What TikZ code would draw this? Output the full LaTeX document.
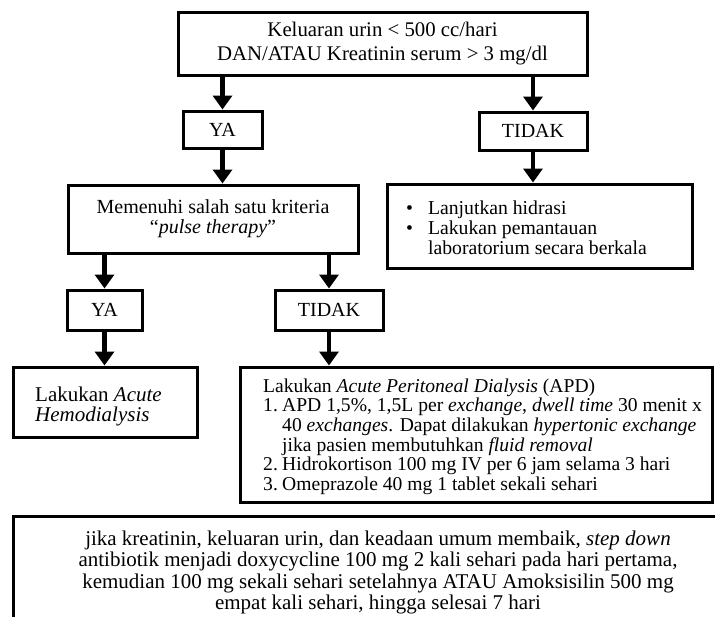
\documentclass[tikz,border=0pt]{standalone}
\usepackage{fontspec}
\setmainfont{Liberation Serif}
\usetikzlibrary{arrows.meta}
\begin{document}
\begin{tikzpicture}[x=1pt,y=-1pt,
  every node/.style={font=\fontsize{20}{23}\selectfont},
  box/.style={draw, line width=3pt, inner sep=0pt, align=center},
  frame/.style={draw, line width=3pt, inner sep=0pt},
  txt/.style={inner sep=0pt, align=left},
  arr/.style={line width=4.5pt, -{Triangle[width=19pt,length=14pt]}}]
\useasboundingbox (0,0) rectangle (715,616);
\clip (0,0) rectangle (715,616);
\node[box, minimum width=409pt, minimum height=63pt, font=\fontsize{20.8}{23.5}\selectfont] (top) at (382.5,43.5)
  {Keluaran urin < 500 cc/hari\\DAN/ATAU Kreatinin serum > 3 mg/dl};
\node[box, minimum width=79pt, minimum height=37pt] (ya1) at (222.5,129.5) {YA};
\node[box, minimum width=108pt, minimum height=38pt] (tidak1) at (533,131) {TIDAK};
\node[box, minimum width=290pt, minimum height=68pt, font=\fontsize{20}{20}\selectfont] (pulse) at (213,219)
  {Memenuhi salah satu kriteria\\``\textit{pulse therapy}''};
\node[frame, minimum width=305pt, minimum height=84pt] (lanjut) at (539.5,226) {};
\node[txt, anchor=north west, font=\fontsize{19.7}{20}\selectfont] (lanjuttxt) at (406,200)
  {\begin{tabular}{@{}l@{\hspace{15pt}}l@{}}
   \textbullet & Lanjutkan hidrasi\\
   \textbullet & Lakukan pemantauan\\
               & laboratorium secara berkala
   \end{tabular}};
\node[box, minimum width=75pt, minimum height=40pt] (ya2) at (104.5,310) {YA};
\node[box, minimum width=108pt, minimum height=40pt] (tidak2) at (329,310) {TIDAK};
\node[frame, minimum width=184pt, minimum height=70pt] (hemo) at (105,402) {};
\node[txt, anchor=west, font=\fontsize{21}{20}\selectfont] (hemotxt) at (35,406)
  {Lakukan \textit{Acute}\\\textit{Hemodialysis}};
\node[frame, minimum width=472pt, minimum height=135pt] (apd) at (476,434.5) {};
\node[txt, anchor=north west, font=\fontsize{19.6}{19.6}\selectfont] (apdtxt) at (263,378.5)
  {Lakukan \textit{Acute Peritoneal Dialysis} (APD)\\
   \makebox[19pt][l]{1.}APD 1,5\%, 1,5L per \textit{exchange}, \textit{dwell time} 30 menit x\\
   \hspace*{19pt}40 \textit{exchanges}. Dapat dilakukan \textit{hypertonic exchange}\\
   \hspace*{19pt}jika pasien membutuhkan \textit{fluid removal}\\
   \makebox[19pt][l]{2.}Hidrokortison 100 mg IV per 6 jam selama 3 hari\\
   \makebox[19pt][l]{3.}Omeprazole 40 mg 1 tablet sekali sehari};
\node[frame, minimum width=730pt, minimum height=112pt, align=center,
  font=\fontsize{21}{21.5}\selectfont] (final) at (378,572.5)
  {jika kreatinin, keluaran urin, dan keadaan umum membaik, \textit{step down}\\
   antibiotik menjadi doxycycline 100 mg 2 kali sehari pada hari pertama,\\
   kemudian 100 mg sekali sehari setelahnya ATAU Amoksisilin 500 mg\\
   empat kali sehari, hingga selesai 7 hari};
\draw[arr] (top.south -| ya1.north) -- (ya1.north);
\draw[arr] (top.south -| tidak1.north) -- (tidak1.north);
\draw[arr] (ya1.south) -- (ya1.south |- pulse.north);
\draw[arr] (tidak1.south) -- (tidak1.south |- lanjut.north);
\draw[arr] (pulse.south -| ya2.north) -- (ya2.north);
\draw[arr] (pulse.south -| tidak2.north) -- (tidak2.north);
\draw[arr] (ya2.south) -- (ya2.south |- hemo.north);
\draw[arr] (tidak2.south) -- (tidak2.south |- apd.north);
\end{tikzpicture}
\end{document}
